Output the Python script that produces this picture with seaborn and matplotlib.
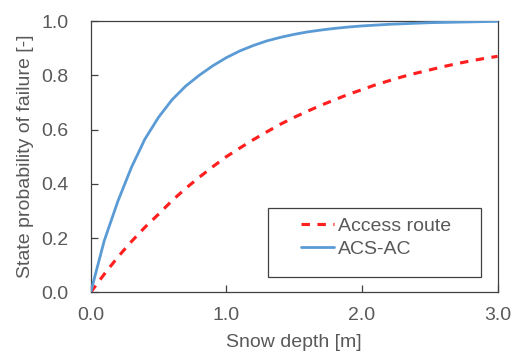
import numpy as np
import pandas as pd
import matplotlib
matplotlib.use("Agg")
import matplotlib.pyplot as plt
from matplotlib.patches import Rectangle
import seaborn as sns

# Snow depth [m] and state probability of failure for each system
snow_depth = [0.0, 0.1, 0.2, 0.3, 0.4, 0.5, 0.6, 0.7, 0.8, 0.9, 1.0,
              1.1, 1.2, 1.3, 1.4, 1.5, 1.6, 1.7, 1.8, 1.9, 2.0,
              2.1, 2.2, 2.3, 2.4, 2.5, 2.6, 2.7, 2.8, 2.9, 3.0]
access_route = [0.0, 0.067, 0.13, 0.187, 0.24, 0.288, 0.338, 0.383, 0.424, 0.463, 0.50,
                0.532, 0.563, 0.592, 0.62, 0.645, 0.668, 0.69, 0.71, 0.73, 0.747,
                0.765, 0.78, 0.795, 0.808, 0.82, 0.832, 0.843, 0.853, 0.862, 0.87]
acs_ac = [0.0, 0.19, 0.335, 0.46, 0.565, 0.645, 0.71, 0.76, 0.80, 0.835, 0.865,
          0.89, 0.91, 0.927, 0.94, 0.951, 0.96, 0.967, 0.973, 0.978, 0.982,
          0.985, 0.988, 0.99, 0.992, 0.994, 0.995, 0.996, 0.997, 0.998, 0.999]
series_names = ["Access route", "ACS-AC"]
x_ticks = [0.0, 1.0, 2.0, 3.0]
y_ticks = [0.0, 0.2, 0.4, 0.6, 0.8, 1.0]

df = pd.DataFrame({
    "Snow depth": snow_depth * 2,
    "Probability": access_route + acs_ac,
    "Series": [series_names[0]] * len(snow_depth) + [series_names[1]] * len(snow_depth),
})

sns.set_style("ticks")
plt.rcParams["font.family"] = ["Liberation Sans", "DejaVu Sans"]

text_color = "#595959"
spine_color = "#404040"
fs = 14

fig = plt.figure(figsize=(5.21, 3.51), dpi=100)
ax = fig.add_axes([0.174, 0.167, 0.781, 0.773])

palette = {"Access route": "#FF1F1F", "ACS-AC": "#5B9BD5"}
sns.lineplot(data=df, x="Snow depth", y="Probability", hue="Series",
             hue_order=series_names, palette=palette, ax=ax,
             legend=False, estimator=None, sort=False)

red_line, blue_line = ax.lines[0], ax.lines[1]
red_line.set_linewidth(2.25)
red_line.set_dashes((2.7, 2.4))
blue_line.set_linewidth(2.0)
blue_line.set_zorder(3)

ax.set_xlim(0, 3.0)
ax.set_ylim(0, 1.0)
ax.set_xticks(x_ticks)
ax.set_yticks(y_ticks)
ax.set_xticklabels([f"{v:.1f}" for v in x_ticks])
ax.set_yticklabels([f"{v:.1f}" for v in y_ticks])

ax.tick_params(axis="both", direction="in", length=5, width=0.9,
               color=spine_color, labelcolor=text_color, labelsize=fs)
ax.tick_params(axis="x", pad=10.5)
ax.tick_params(axis="y", pad=16)
for s in ax.spines.values():
    s.set_visible(True)
    s.set_color(spine_color)
    s.set_linewidth(0.9)

ax.set_xlabel("Snow depth [m]", fontsize=fs, color=text_color, labelpad=7)
ax.set_ylabel("State probability of failure [-]", fontsize=fs, color=text_color, labelpad=5)

# Legend with a plain rectangular frame
leg = ax.legend([red_line, blue_line], series_names, loc="center left",
                bbox_to_anchor=(0.518, 0.202), frameon=False, fontsize=fs,
                handlelength=1.7, handletextpad=0.2, labelspacing=0.28,
                borderpad=0, borderaxespad=0)
for t in leg.get_texts():
    t.set_color(text_color)
ax.add_patch(Rectangle((0.436, 0.056), 0.523, 0.255, transform=ax.transAxes,
                       fill=True, facecolor="white", edgecolor=spine_color,
                       linewidth=0.9, zorder=4))
leg.set_zorder(5)

fig.savefig("out.png", dpi=100)
